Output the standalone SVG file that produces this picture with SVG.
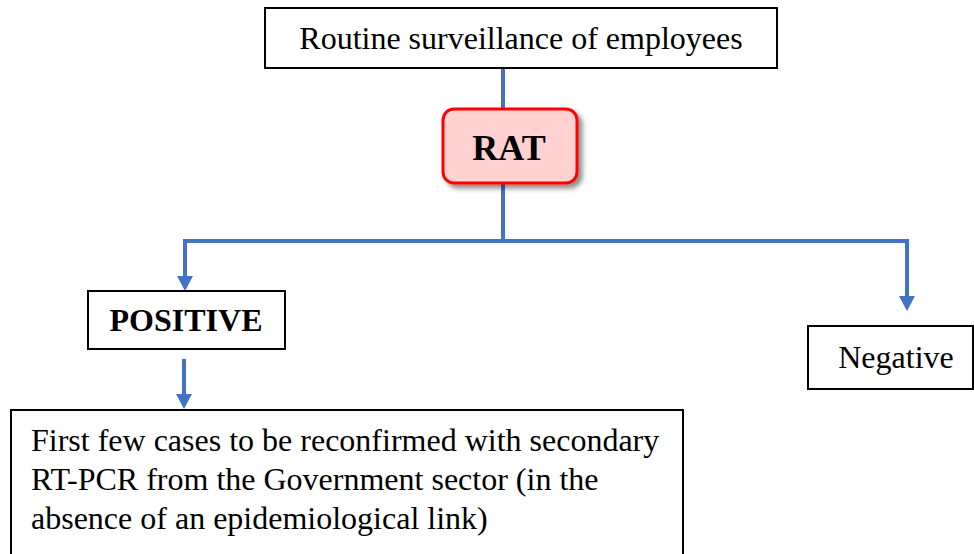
<svg xmlns="http://www.w3.org/2000/svg" width="974" height="554" viewBox="0 0 974 554">
  <style>
    .box { fill: #ffffff; stroke: #000000; stroke-width: 2; }
    .txt { font-size: 32px; fill: #000000; }
    .bold { font-weight: bold; }
    .big { font-size: 36px; }
    .conn { fill: none; stroke: #4472C4; stroke-width: 4; stroke-linejoin: miter; stroke-linecap: butt; }
  </style>
  <defs>
    <!-- arrowhead drawn along +x so orient="auto" points it down the path -->
    <marker id="arrow" markerUnits="userSpaceOnUse" markerWidth="18" markerHeight="18" viewBox="0 0 18 18" refX="2" refY="9" orient="auto">
      <path d="M2,1 L17,9 L2,17 Z" fill="#4472C4"/>
    </marker>
    <filter id="shadow" x="-20%" y="-20%" width="150%" height="160%">
      <feGaussianBlur in="SourceAlpha" stdDeviation="2.5"/>
      <feOffset dx="4" dy="4" result="b"/>
      <feFlood flood-color="#000000" flood-opacity="0.45"/>
      <feComposite in2="b" operator="in"/>
      <feMerge>
        <feMergeNode/>
        <feMergeNode in="SourceGraphic"/>
      </feMerge>
    </filter>
  </defs>

  <g font-family="'Liberation Serif', 'DejaVu Serif', serif">
    <!-- connectors -->
    <g id="connectors">
      <line class="conn" x1="503" y1="68" x2="503" y2="110"/>
      <line class="conn" x1="503" y1="182" x2="503" y2="243"/>
      <path class="conn" d="M185,243 V241 H907 V243"/>
      <path class="conn" d="M185,239 V276" marker-end="url(#arrow)"/>
      <path class="conn" d="M907,239 V296" marker-end="url(#arrow)"/>
      <path class="conn" d="M184,359 V394" marker-end="url(#arrow)"/>
    </g>

    <!-- top node -->
    <g id="node-surveillance">
      <rect class="box" x="265" y="8" width="512" height="60"/>
      <text class="txt" x="521" y="49" text-anchor="middle">Routine surveillance of employees</text>
    </g>

    <!-- RAT node -->
    <g id="node-rat">
      <rect x="443" y="109" width="134" height="74" rx="11" ry="11" fill="#FFD1D1" stroke="#FF0000" stroke-width="3" filter="url(#shadow)"/>
      <text class="txt bold big" x="509" y="160" text-anchor="middle">RAT</text>
    </g>

    <!-- positive node -->
    <g id="node-positive">
      <rect class="box" x="88" y="291" width="197" height="58"/>
      <text class="txt bold" x="186" y="331" text-anchor="middle">POSITIVE</text>
    </g>

    <!-- negative node -->
    <g id="node-negative">
      <rect class="box" x="808" y="326" width="165" height="63"/>
      <text class="txt" x="896" y="368" text-anchor="middle">Negative</text>
    </g>

    <!-- reconfirmation node -->
    <g id="node-reconfirm">
      <rect class="box" x="11" y="410" width="672" height="150"/>
      <text class="txt" x="31" y="451">First few cases to be reconfirmed with secondary</text>
      <text class="txt" x="31" y="490">RT-PCR from the Government sector (in the</text>
      <text class="txt" x="31" y="529">absence of an epidemiological link)</text>
    </g>
  </g>
</svg>
